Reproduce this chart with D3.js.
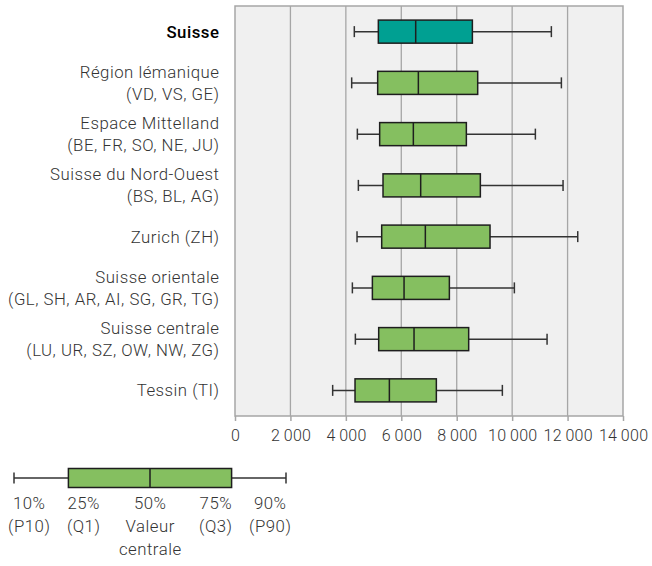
<!DOCTYPE html>
<html>
<head>
<meta charset="utf-8">
<script src="https://cdn.jsdelivr.net/npm/d3@7"></script>
<style>
  body { margin: 0; background: #fff; }
  text { font-family: Roboto, "Noto Sans", sans-serif; }
</style>
</head>
<body>
<script>
var regions = ["Suisse", "Région lémanique", "Espace Mittelland", "Suisse du Nord-Ouest",
  "Zurich", "Suisse orientale", "Suisse centrale", "Tessin"];
var regionLabels = [
  ["Suisse"],
  ["Région lémanique", "(VD, VS, GE)"],
  ["Espace Mittelland", "(BE, FR, SO, NE, JU)"],
  ["Suisse du Nord-Ouest", "(BS, BL, AG)"],
  ["Zurich (ZH)"],
  ["Suisse orientale", "(GL, SH, AR, AI, SG, GR, TG)"],
  ["Suisse centrale", "(LU, UR, SZ, OW, NW, ZG)"],
  ["Tessin (TI)"]
];
var p10 = [4305, 4210, 4415, 4451, 4403, 4235, 4343, 3524];
var q1  = [5172, 5148, 5220, 5341, 5293, 4957, 5185, 4331];
var med = [6520, 6616, 6435, 6700, 6868, 6100, 6460, 5570];
var q3  = [8565, 8757, 8348, 8853, 9202, 7735, 8432, 7265];
var p90 = [11415, 11777, 10838, 11837, 12367, 10080, 11260, 9647];
var xTicks = [0, 2000, 4000, 6000, 8000, 10000, 12000, 14000];

// legend: an example box on a 0-100 scale
var legendExample = [0, 20, 50, 80, 100];
var legendLabels = [["10%", "(P10)"], ["25%", "(Q1)"], ["50%", "Valeur", "centrale"], ["75%", "(Q3)"], ["90%", "(P90)"]];

var width = 652, height = 566;
var plot = { left: 235, right: 623, top: 6, bottom: 416 };
var teal = "#00a092", green = "#85bf60";
var fontSize = "16.8px", labelSpacing = 0.5;

var svg = d3.select("body").append("svg").attr("width", width).attr("height", height);

var x = d3.scaleLinear().domain([0, 14000]).range([plot.left, plot.right]);
var y = d3.scaleBand().domain(regions).range([plot.top, plot.bottom]);
var boxH = y.bandwidth() * 0.45;
var capH = 11;

var fr = d3.formatLocale({ decimal: ",", thousands: "\u2009", grouping: [3], currency: ["", " CHF"] });

svg.append("rect").attr("x", plot.left).attr("y", plot.top)
  .attr("width", plot.right - plot.left).attr("height", plot.bottom - plot.top)
  .attr("fill", "#f0f0f0");

svg.append("g").selectAll("line").data(xTicks.slice(1, -1)).enter().append("line")
  .attr("x1", function(d) { return x(d); }).attr("x2", function(d) { return x(d); })
  .attr("y1", plot.top).attr("y2", plot.bottom)
  .attr("stroke", "#a6a6a6").attr("stroke-width", 1.3);

svg.append("rect").attr("x", plot.left).attr("y", plot.top)
  .attr("width", plot.right - plot.left).attr("height", plot.bottom - plot.top)
  .attr("fill", "none").attr("stroke", "#a6a6a6").attr("stroke-width", 1.5);

var axis = svg.append("g").attr("transform", "translate(0," + plot.bottom + ")")
  .call(d3.axisBottom(x).tickValues(xTicks).tickSize(5).tickPadding(9).tickFormat(fr.format(",")));
axis.select(".domain").remove();
axis.selectAll(".tick line").attr("stroke", "#a6a6a6").attr("stroke-width", 1.5);
axis.selectAll(".tick text").attr("font-size", "16px").attr("font-weight", 300)
  .attr("letter-spacing", "0.3px").attr("dx", "0.15px")
  .attr("fill", "#333").attr("font-family", "Roboto, sans-serif");

var rows = svg.append("g").selectAll("g").data(regions).enter().append("g")
  .attr("transform", function(d) { return "translate(0," + (y(d) + y.bandwidth() / 2) + ")"; });

rows.append("line")
  .attr("x1", function(d, i) { return x(p10[i]); }).attr("x2", function(d, i) { return x(p90[i]); })
  .attr("stroke", "#333").attr("stroke-width", 1.5);
rows.append("line")
  .attr("x1", function(d, i) { return x(p10[i]); }).attr("x2", function(d, i) { return x(p10[i]); })
  .attr("y1", -capH / 2).attr("y2", capH / 2).attr("stroke", "#333").attr("stroke-width", 1.5);
rows.append("line")
  .attr("x1", function(d, i) { return x(p90[i]); }).attr("x2", function(d, i) { return x(p90[i]); })
  .attr("y1", -capH / 2).attr("y2", capH / 2).attr("stroke", "#333").attr("stroke-width", 1.5);
rows.append("rect")
  .attr("x", function(d, i) { return x(q1[i]); })
  .attr("width", function(d, i) { return x(q3[i]) - x(q1[i]); })
  .attr("y", -boxH / 2).attr("height", boxH)
  .attr("fill", function(d, i) { return i === 0 ? teal : green; })
  .attr("stroke", "#1e1e1e").attr("stroke-width", 1.5);
rows.append("line")
  .attr("x1", function(d, i) { return x(med[i]); }).attr("x2", function(d, i) { return x(med[i]); })
  .attr("y1", -boxH / 2).attr("y2", boxH / 2).attr("stroke", "#1e1e1e").attr("stroke-width", 1.5);

rows.each(function(d, i) {
  var lines = regionLabels[i];
  var lx0 = 219 + labelSpacing;
  var t = d3.select(this).append("text").attr("text-anchor", "end")
    .attr("font-size", fontSize).attr("letter-spacing", labelSpacing + "px")
    .attr("fill", i === 0 ? "#000" : "#333")
    .attr("font-weight", i === 0 ? 500 : 300);
  lines.forEach(function(s, j) {
    t.append("tspan").attr("x", lx0)
      .attr("y", (j - (lines.length - 1) / 2) * 21.6)
      .attr("dy", "0.35em").text(s);
  });
});

// legend
var lx = d3.scaleLinear().domain([0, 100]).range([14, 286]);
var ly = 478, lh = 19;
var lg = svg.append("g");
lg.append("line").attr("x1", lx(legendExample[0])).attr("x2", lx(legendExample[4]))
  .attr("y1", ly).attr("y2", ly).attr("stroke", "#333").attr("stroke-width", 1.5);
[0, 4].forEach(function(k) {
  lg.append("line").attr("x1", lx(legendExample[k])).attr("x2", lx(legendExample[k]))
    .attr("y1", ly - capH / 2).attr("y2", ly + capH / 2).attr("stroke", "#333").attr("stroke-width", 1.5);
});
lg.append("rect").attr("x", lx(legendExample[1])).attr("width", lx(legendExample[3]) - lx(legendExample[1]))
  .attr("y", ly - lh / 2).attr("height", lh).attr("fill", green)
  .attr("stroke", "#1e1e1e").attr("stroke-width", 1.5);
lg.append("line").attr("x1", lx(legendExample[2])).attr("x2", lx(legendExample[2]))
  .attr("y1", ly - lh / 2).attr("y2", ly + lh / 2).attr("stroke", "#1e1e1e").attr("stroke-width", 1.5);

legendLabels.forEach(function(lines, i) {
  var shift = i < 2 ? 15 : (i > 2 ? -16 : 0);
  var t = lg.append("text").attr("text-anchor", "middle").attr("font-size", fontSize)
    .attr("letter-spacing", labelSpacing + "px")
    .attr("font-weight", 300).attr("fill", "#333");
  lines.forEach(function(s, j) {
    t.append("tspan").attr("x", lx(legendExample[i]) + shift + labelSpacing / 2).attr("y", 503 + j * 23.2)
      .attr("dy", "0.35em").text(s);
  });
});
</script>
</body>
</html>
